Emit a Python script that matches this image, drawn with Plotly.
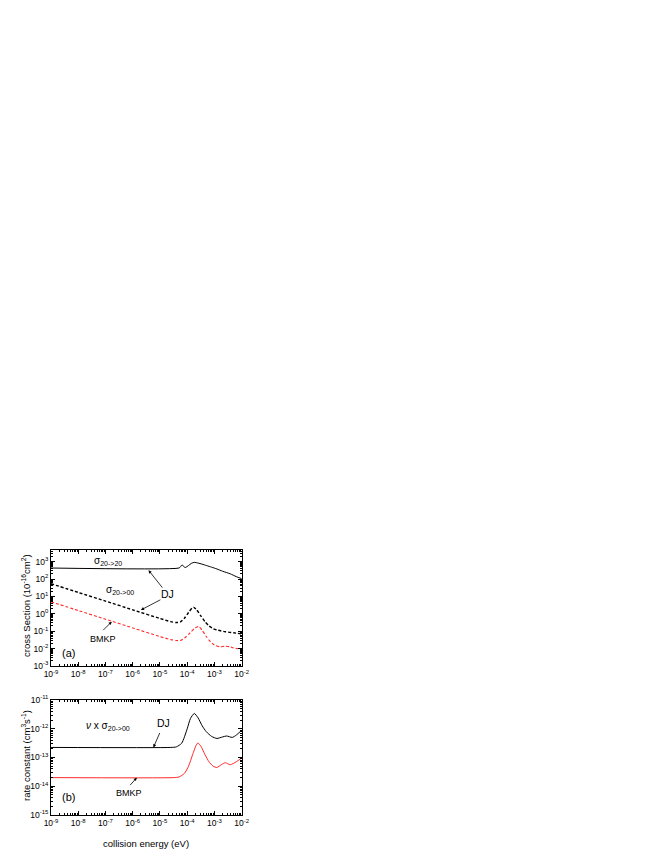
import plotly.graph_objects as go

# ---------------- data ----------------
# panel (a): cross sections (1e-16 cm^2) vs collision energy (eV)
e_s2020 = [1e-9, 5.0e-5, 5.6e-5, 6.5e-5, 7.4e-5, 8.5e-5, 1.12e-4, 1.41e-4, 1.82e-4,
           2.5e-4, 3.5e-4, 5.2e-4, 7.9e-4, 1.23e-3, 2.0e-3, 3.8e-3, 6.3e-3, 1e-2]
s2020_dj = [430, 430, 500, 660, 525, 460, 600, 790, 910,
            830, 720, 590, 480, 380, 280, 200, 138, 105]

e_dj = [1e-9, 1e-8, 1e-7, 1e-6, 1e-5, 2.5e-5, 4e-5, 5.6e-5, 7.9e-5, 1.12e-4, 1.51e-4,
        1.74e-4, 2.24e-4, 3.16e-4, 4.47e-4, 6.3e-4, 8.9e-4, 1.26e-3, 2.5e-3, 5e-3, 1e-2]
s2000_dj = [54, 17, 5.4, 1.7, 0.54, 0.355, 0.316, 0.34, 0.56, 1.2, 2.14,
            2.34, 1.66, 0.76, 0.355, 0.2, 0.141, 0.117, 0.093, 0.081, 0.071]

e_bm = [1e-9, 1e-8, 1e-7, 1e-6, 1e-5, 2.5e-5, 4e-5, 5.6e-5, 7.9e-5, 1.26e-4, 1.9e-4,
        2.63e-4, 3.55e-4, 5e-4, 7.1e-4, 1e-3, 1.58e-3, 2.5e-3, 3.55e-3, 5e-3, 1e-2]
s2000_bm = [4.9, 1.55, 0.49, 0.155, 0.049, 0.033, 0.029, 0.0295, 0.04, 0.079, 0.151,
            0.186, 0.112, 0.05, 0.025, 0.0158, 0.0126, 0.0138, 0.0129, 0.011, 0.0091]

# panel (b): rate constants (cm^3 s^-1)
e_kdj = [1e-9, 2.5e-5, 4e-5, 6.3e-5, 1e-4, 1.32e-4, 1.82e-4, 2.5e-4, 3.55e-4, 5e-4,
         7.9e-4, 1.23e-3, 2e-3, 2.8e-3, 4.5e-3, 6.3e-3, 1e-2]
k_dj = [2.24e-13, 2.24e-13, 2.34e-13, 3.16e-13, 1.0e-12, 2.3e-12, 3.4e-12, 2.4e-12, 1.26e-12,
        7.9e-13, 5.4e-13, 4.6e-13, 5.2e-13, 5.6e-13, 5.0e-13, 6.0e-13, 8.9e-13]

e_kbm = [1e-9, 3.2e-5, 5e-5, 7.9e-5, 1.12e-4, 1.58e-4, 2.1e-4, 2.45e-4, 3.16e-4, 4.47e-4,
         6.3e-4, 8.9e-4, 1.23e-3, 1.78e-3, 2.5e-3, 3.8e-3, 6.3e-3, 1e-2]
k_bm = [2.0e-14, 2.0e-14, 2.1e-14, 2.8e-14, 5.0e-14, 1.26e-13, 2.6e-13, 3.2e-13, 2.5e-13,
        1.26e-13, 7.1e-14, 5.0e-14, 4.5e-14, 5.6e-14, 6.6e-14, 5.6e-14, 7.1e-14, 9.5e-14]

x_exps = [-9, -8, -7, -6, -5, -4, -3, -2]
ya_exps = [-3, -2, -1, 0, 1, 2, 3]
yb_exps = [-15, -14, -13, -12, -11]

# ---------------- figure ----------------
W, H = 664, 860
OFF = 8  # page body margin
FONT = "Liberation Sans, Arial, sans-serif"
RED = "#ff2a2a"

fig = go.Figure()
fig.add_trace(go.Scatter(x=e_s2020, y=s2020_dj, mode="lines",
                         line=dict(color="black", width=1, shape="spline", smoothing=0.6),
                         xaxis="x", yaxis="y", showlegend=False))
fig.add_trace(go.Scatter(x=e_dj, y=s2000_dj, mode="lines",
                         line=dict(color="black", width=1.4, dash="3px,2px", shape="spline", smoothing=0.6),
                         xaxis="x", yaxis="y", showlegend=False))
fig.add_trace(go.Scatter(x=e_bm, y=s2000_bm, mode="lines",
                         line=dict(color=RED, width=1.1, dash="3px,2px", shape="spline", smoothing=0.6),
                         xaxis="x", yaxis="y", showlegend=False))
fig.add_trace(go.Scatter(x=e_kdj, y=k_dj, mode="lines",
                         line=dict(color="black", width=1, shape="spline", smoothing=0.6),
                         xaxis="x2", yaxis="y2", showlegend=False))
fig.add_trace(go.Scatter(x=e_kbm, y=k_bm, mode="lines",
                         line=dict(color=RED, width=1, shape="spline", smoothing=0.6),
                         xaxis="x2", yaxis="y2", showlegend=False))


def sup_label(e):
    return "10<sup>%d</sup>" % e


def minor_vals(lo, hi):
    v = []
    for d in range(lo, hi):
        for m in range(2, 10):
            v.append(m * 10.0 ** d)
    return v


def px_x(p):
    return (p - OFF) / W


def px_y(p):
    return (H - (p - OFF)) / H


x_dom = [px_x(51), px_x(241.7)]
ya_dom = [px_y(666), px_y(550)]
yb_dom = [px_y(815), px_y(700)]

TICKFONT = dict(family=FONT, size=8.5, color="black")

common_x = dict(type="log", range=[-9, -2], showline=True, linecolor="black", linewidth=1,
                mirror="ticks", ticks="inside", ticklen=4, tickcolor="black", showgrid=False,
                zeroline=False, tickvals=[10.0 ** e for e in x_exps],
                ticktext=[sup_label(e) for e in x_exps],
                tickfont=TICKFONT, automargin=False,
                minor=dict(ticks="inside", ticklen=2, tickcolor="black",
                           tickvals=minor_vals(-9, -2), showgrid=False),
                domain=x_dom)


def yaxis(lo, hi, exps, dom, anchor):
    return dict(type="log", range=[lo, hi], showline=True, linecolor="black", linewidth=1,
                mirror="ticks", ticks="inside", ticklen=4, tickcolor="black", showgrid=False,
                zeroline=False, tickvals=[10.0 ** e for e in exps],
                ticktext=[sup_label(e) for e in exps],
                tickfont=TICKFONT, automargin=False,
                minor=dict(ticks="inside", ticklen=2, tickcolor="black",
                           tickvals=minor_vals(int(lo), int(hi) + 1), showgrid=False),
                domain=dom, anchor=anchor)


fig.update_layout(
    width=W, height=H, template="none",
    paper_bgcolor="white", plot_bgcolor="white",
    margin=dict(l=0, r=0, t=0, b=0),
    xaxis=dict(common_x, anchor="y"),
    xaxis2=dict(common_x, anchor="y2"),
    yaxis=yaxis(-3, 3.67, ya_exps, ya_dom, "x"),
    yaxis2=yaxis(-15, -11, yb_exps, yb_dom, "x2"),
    font=dict(family=FONT, color="black"),
)

ann = []
txt = dict(showarrow=False, xanchor="center", yanchor="middle")
# panel (a) labels (annotation coordinates on log axes are log10 values)
ann.append(dict(txt, xref="x", yref="y", x=-6.9, y=3.05, text="σ<sub>20->20</sub>",
                font=dict(family=FONT, size=10, color="black")))
ann.append(dict(txt, xref="x", yref="y", x=-6.45, y=1.35, text="σ<sub>20->00</sub>",
                font=dict(family=FONT, size=10, color="black")))
ann.append(dict(txt, xref="x", yref="y", x=-4.74, y=1.12, text="DJ",
                font=dict(family=FONT, size=10.5, color="black")))
ann.append(dict(txt, xref="x", yref="y", x=-7.08, y=-1.43, text="BMKP",
                font=dict(family=FONT, size=9, color="black")))
ann.append(dict(txt, xref="x", yref="y", x=-8.36, y=-2.28, text="(a)",
                font=dict(family=FONT, size=11, color="black")))
arrow = dict(showarrow=True, arrowhead=2, arrowsize=0.8, arrowwidth=0.8, arrowcolor="black",
             text="", standoff=0)
ann.append(dict(arrow, xref="x", yref="y", x=-5.42, y=2.51, ax=15, ay=19))
ann.append(dict(arrow, xref="x", yref="y", x=-5.70, y=0.22, ax=21, ay=-11))
ann.append(dict(arrow, xref="x", yref="y", x=-6.77, y=-0.45, ax=-10, ay=10))
# panel (b) labels
ann.append(dict(txt, xref="x2", yref="y2", x=-6.9, y=-11.9, text="<i>ν</i> x σ<sub>20->00</sub>",
                font=dict(family=FONT, size=10, color="black")))
ann.append(dict(txt, xref="x2", yref="y2", x=-4.87, y=-11.81, text="DJ",
                font=dict(family=FONT, size=10.5, color="black")))
ann.append(dict(txt, xref="x2", yref="y2", x=-6.13, y=-14.25, text="BMKP",
                font=dict(family=FONT, size=9, color="black")))
ann.append(dict(txt, xref="x2", yref="y2", x=-8.36, y=-14.38, text="(b)",
                font=dict(family=FONT, size=11, color="black")))
ann.append(dict(arrow, xref="x2", yref="y2", x=-5.24, y=-12.65, ax=7, ay=-16))
ann.append(dict(arrow, xref="x2", yref="y2", x=-5.85, y=-13.70, ax=-8, ay=9))
# axis titles
ann.append(dict(txt, xref="paper", yref="paper", x=px_x(26), y=px_y(606), textangle=-90,
                text="cross Section (10<sup>-16</sup>cm<sup>2</sup>)",
                font=dict(family=FONT, size=9.5, color="black")))
ann.append(dict(txt, xref="paper", yref="paper", x=px_x(26), y=px_y(756), textangle=-90,
                text="rate constant (cm<sup>3</sup>s<sup>-1</sup>)",
                font=dict(family=FONT, size=9.5, color="black")))
ann.append(dict(txt, xref="paper", yref="paper", x=px_x(146), y=px_y(843),
                text="collision energy (eV)",
                font=dict(family=FONT, size=9.5, color="black")))
fig.update_layout(annotations=ann)

fig.write_html("out.html")
